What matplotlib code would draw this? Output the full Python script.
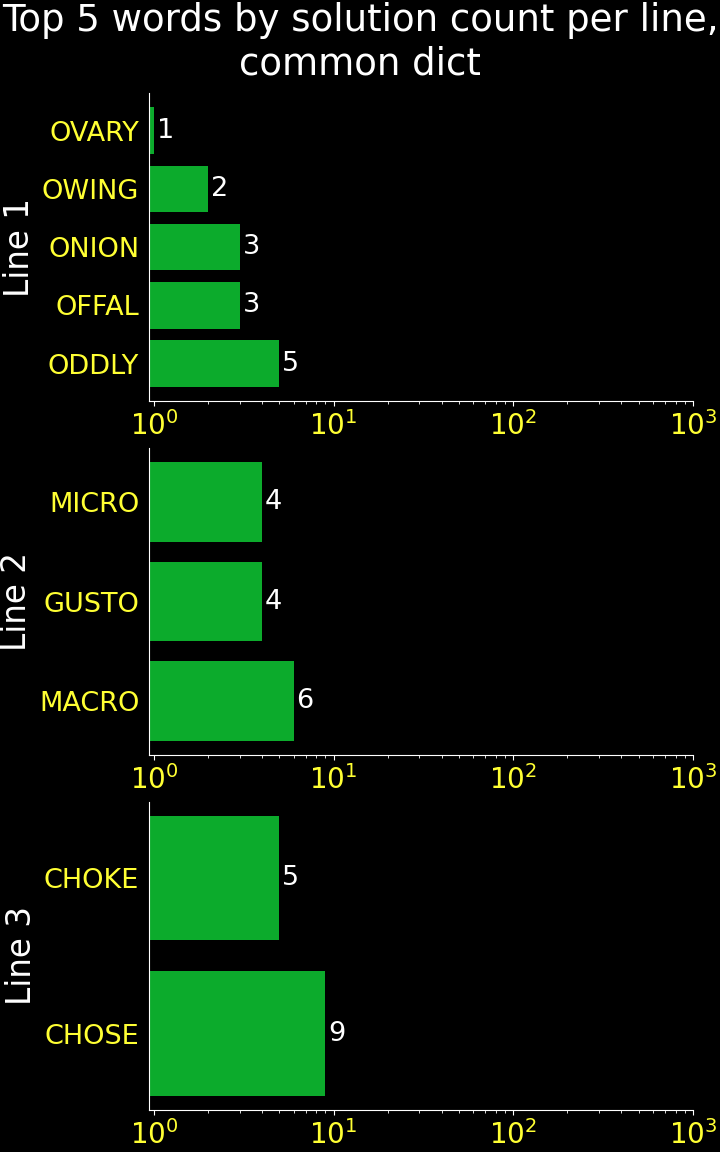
import matplotlib
matplotlib.use("Agg")
import matplotlib.pyplot as plt

# words listed bottom -> top for each line
line1_words = ["ODDLY", "OFFAL", "ONION", "OWING", "OVARY"]
line1_counts = [5, 3, 3, 2, 1]
line2_words = ["MACRO", "GUSTO", "MICRO"]
line2_counts = [6, 4, 4]
line3_words = ["CHOSE", "CHOKE"]
line3_counts = [9, 5]
panel_names = ["Line 1", "Line 2", "Line 3"]

BAR = "#0cab2c"
TICK = "#ffff33"

fig = plt.figure(figsize=(7.2, 11.52), dpi=100, facecolor="black")
fig.suptitle("Top 5 words by solution count per line,\ncommon dict",
             color="white", fontsize=26.7, y=0.998, va="top")

boxes = [(0.207, 0.652, 0.7555, 0.267),
         (0.207, 0.3446, 0.7555, 0.2664),
         (0.207, 0.0365, 0.7555, 0.2675)]
panels = [(line1_words, line1_counts), (line2_words, line2_counts), (line3_words, line3_counts)]

for box, (words, counts), name in zip(boxes, panels, panel_names):
    ax = fig.add_axes(box)
    ax.set_facecolor("black")
    bars = ax.barh(range(len(words)), counts, color=BAR, height=0.8)
    ax.set_xscale("log")
    ax.set_xlim(0.94, 1000)
    ax.set_yticks(range(len(words)))
    ax.set_yticklabels(words)
    ax.bar_label(bars, labels=[str(c) for c in counts], padding=2,
                 color="white", fontsize=19.5)
    ax.set_ylabel(name, color="white", fontsize=23.5, labelpad=4)
    for s in ["top", "right"]:
        ax.spines[s].set_visible(False)
    for s in ["left", "bottom"]:
        ax.spines[s].set_color("white")
    ax.tick_params(axis="x", which="both", colors="white", labelcolor=TICK, labelsize=20)
    ax.tick_params(axis="y", colors="black", labelcolor=TICK, labelsize=19.5)

fig.savefig("out.png", dpi=100, facecolor="black")
